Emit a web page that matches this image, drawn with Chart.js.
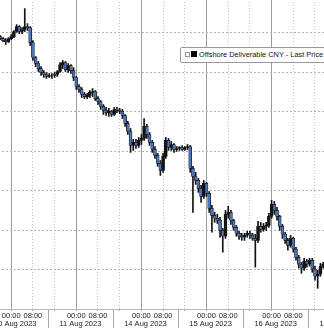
<!DOCTYPE html>
<html lang="en">
<head>
<meta charset="UTF-8">
<title>Offshore Deliverable CNY - Last Price</title>
<script src="https://cdn.jsdelivr.net/npm/chart.js@4.4.0/dist/chart.umd.min.js"></script>
<style>
    html, body { margin: 0; padding: 0; background: #fff; }
    .frame { position: relative; width: 324px; height: 328px; overflow: hidden; background: #fff; }
    #cnyChart { position: absolute; left: -30px; top: -46px; }
    .legend {
        position: absolute; left: 180px; top: 47px; width: 200px; height: 14px;
        border: 1px solid #9a9a9a; border-radius: 2px; background: #fff;
        font-family: 'Liberation Sans', Arial, sans-serif; font-size: 7.4px; color: #111;
        white-space: nowrap;
    }
    .legend .toggle { position: absolute; left: 4px; top: 4px; width: 3px; height: 3px; border: 1px solid #9a9a9a; }
    .legend .swatch { position: absolute; left: 10px; top: 3px; width: 6px; height: 6px; background: #000; }
    .legend .label { position: absolute; left: 18px; top: 2px; line-height: 9px; }
</style>
</head>
<body>
<div class="frame">
    <canvas id="cnyChart" width="400" height="379"></canvas>
    <div class="legend"><span class="toggle"></span><span class="swatch"></span><span class="label">Offshore Deliverable CNY - Last Price</span></div>
</div>

<script>
// hourly bars, trading hours counted from 10 Aug 00:00 (weekend skipped)
const barHours = [
    -4, -3, -2, -1,
    0, 1, 2, 3, 4, 5, 6, 7, 8, 9, 10, 11, 12, 13, 14, 15, 16, 17, 18, 19, 20, 21, 22, 23,
    24, 25, 26, 27, 28, 29, 30, 31, 32, 33, 34, 35, 36, 37, 38, 39, 40, 41, 42, 43, 44, 45, 46, 47,
    48, 49, 50, 51, 52, 53, 54, 55, 56, 57, 58, 59, 60, 61, 62, 63, 64, 65, 66, 67, 68, 69, 70, 71,
    72, 73, 74, 75, 76, 77, 78, 79, 80, 81, 82, 83, 84, 85, 86, 87, 88, 89, 90, 91, 92, 93, 94, 95,
    96, 97, 98, 99, 100, 101, 102, 103, 104, 105, 106, 107, 108, 109, 110, 111, 112, 113, 114, 115
];
const opens = [
    7.2219, 7.2229, 7.2239, 7.2244,
    7.2229, 7.2219, 7.2193, 7.2168, 7.2193, 7.2183, 7.2168, 7.2173, 7.2249, 7.2325, 7.2355, 7.2381, 7.2401, 7.2411, 7.2421, 7.2416, 7.2416, 7.2411, 7.2396, 7.2361, 7.2350, 7.2386, 7.2366, 7.2391,
    7.2426, 7.2472, 7.2487, 7.2512, 7.2523, 7.2517, 7.2502, 7.2497, 7.2533, 7.2548, 7.2573, 7.2593, 7.2604, 7.2598, 7.2614, 7.2588, 7.2593, 7.2598, 7.2619, 7.2659, 7.2700, 7.2771, 7.2755, 7.2771,
    7.2745, 7.2735, 7.2674, 7.2715, 7.2755, 7.2791, 7.2821, 7.2862, 7.2897, 7.2826, 7.2745, 7.2781, 7.2766, 7.2791, 7.2786, 7.2781, 7.2791, 7.2781, 7.2776, 7.2887, 7.2928, 7.2948, 7.2988, 7.3029,
    7.2963, 7.3014, 7.3090, 7.3125, 7.3140, 7.3150, 7.3201, 7.3231, 7.3120, 7.3110, 7.3150, 7.3186, 7.3216, 7.3231, 7.3236, 7.3226, 7.3216, 7.3226, 7.3242, 7.3252, 7.3181, 7.3196, 7.3181, 7.3176,
    7.3130, 7.3069, 7.3100, 7.3130, 7.3181, 7.3221, 7.3252, 7.3277, 7.3242, 7.3297, 7.3338, 7.3373, 7.3393, 7.3358, 7.3373, 7.3353, 7.3398, 7.3434, 7.3424, 7.3383
];
const highs = [
    7.2234, 7.2244, 7.2259, 7.2249,
    7.2234, 7.2224, 7.2198, 7.2204, 7.2204, 7.2193, 7.2188, 7.2264, 7.2340, 7.2371, 7.2396, 7.2416, 7.2426, 7.2431, 7.2426, 7.2431, 7.2426, 7.2421, 7.2401, 7.2381, 7.2396, 7.2401, 7.2406, 7.2442,
    7.2487, 7.2502, 7.2528, 7.2533, 7.2533, 7.2528, 7.2523, 7.2543, 7.2563, 7.2588, 7.2614, 7.2619, 7.2624, 7.2624, 7.2619, 7.2604, 7.2609, 7.2634, 7.2674, 7.2715, 7.2806, 7.2796, 7.2786, 7.2781,
    7.2766, 7.2745, 7.2735, 7.2771, 7.2806, 7.2836, 7.2877, 7.2923, 7.2907, 7.2836, 7.2796, 7.2796, 7.2806, 7.2801, 7.2796, 7.2796, 7.2796, 7.2791, 7.2907, 7.3110, 7.2968, 7.3009, 7.3059, 7.3039,
    7.3029, 7.3110, 7.3211, 7.3161, 7.3166, 7.3236, 7.3312, 7.3242, 7.3140, 7.3171, 7.3201, 7.3231, 7.3247, 7.3252, 7.3252, 7.3236, 7.3242, 7.3252, 7.3388, 7.3262, 7.3211, 7.3206, 7.3201, 7.3186,
    7.3140, 7.3120, 7.3150, 7.3201, 7.3242, 7.3267, 7.3302, 7.3287, 7.3312, 7.3353, 7.3393, 7.3419, 7.3404, 7.3388, 7.3383, 7.3414, 7.3454, 7.3495, 7.3434, 7.3393
];
const lows = [
    7.2214, 7.2224, 7.2229, 7.2224,
    7.2209, 7.2188, 7.2158, 7.2163, 7.2173, 7.2077, 7.2153, 7.2168, 7.2239, 7.2320, 7.2345, 7.2371, 7.2391, 7.2401, 7.2406, 7.2406, 7.2401, 7.2391, 7.2350, 7.2340, 7.2345, 7.2355, 7.2361, 7.2376,
    7.2421, 7.2462, 7.2477, 7.2502, 7.2507, 7.2492, 7.2482, 7.2492, 7.2523, 7.2543, 7.2563, 7.2578, 7.2583, 7.2593, 7.2578, 7.2578, 7.2583, 7.2588, 7.2614, 7.2649, 7.2685, 7.2740, 7.2740, 7.2730,
    7.2715, 7.2634, 7.2664, 7.2705, 7.2745, 7.2776, 7.2811, 7.2847, 7.2811, 7.2730, 7.2735, 7.2750, 7.2761, 7.2776, 7.2776, 7.2771, 7.2776, 7.2766, 7.2771, 7.2877, 7.2907, 7.2938, 7.2973, 7.2948,
    7.2958, 7.3004, 7.3074, 7.3110, 7.3120, 7.3135, 7.3191, 7.3100, 7.3079, 7.3100, 7.3145, 7.3176, 7.3206, 7.3216, 7.3216, 7.3206, 7.3206, 7.3216, 7.3221, 7.3155, 7.3161, 7.3166, 7.3161, 7.3115,
    7.3049, 7.3054, 7.3085, 7.3125, 7.3171, 7.3211, 7.3242, 7.3226, 7.3236, 7.3287, 7.3328, 7.3363, 7.3343, 7.3348, 7.3343, 7.3343, 7.3383, 7.3404, 7.3368, 7.3363
];
const closes = [
    7.2229, 7.2239, 7.2244, 7.2229,
    7.2219, 7.2193, 7.2168, 7.2193, 7.2183, 7.2168, 7.2173, 7.2249, 7.2325, 7.2355, 7.2381, 7.2401, 7.2411, 7.2421, 7.2416, 7.2416, 7.2411, 7.2396, 7.2361, 7.2350, 7.2386, 7.2366, 7.2391, 7.2426,
    7.2472, 7.2487, 7.2512, 7.2523, 7.2517, 7.2502, 7.2497, 7.2533, 7.2548, 7.2573, 7.2593, 7.2604, 7.2598, 7.2614, 7.2588, 7.2593, 7.2598, 7.2619, 7.2659, 7.2700, 7.2771, 7.2755, 7.2771, 7.2745,
    7.2735, 7.2674, 7.2715, 7.2755, 7.2791, 7.2821, 7.2862, 7.2897, 7.2826, 7.2745, 7.2781, 7.2766, 7.2791, 7.2786, 7.2781, 7.2791, 7.2781, 7.2776, 7.2887, 7.2928, 7.2948, 7.2988, 7.3029, 7.2963,
    7.3014, 7.3090, 7.3125, 7.3140, 7.3150, 7.3201, 7.3231, 7.3120, 7.3110, 7.3150, 7.3186, 7.3216, 7.3231, 7.3236, 7.3226, 7.3216, 7.3226, 7.3242, 7.3252, 7.3181, 7.3196, 7.3181, 7.3176, 7.3130,
    7.3069, 7.3100, 7.3130, 7.3181, 7.3221, 7.3252, 7.3277, 7.3242, 7.3297, 7.3338, 7.3373, 7.3393, 7.3358, 7.3373, 7.3353, 7.3398, 7.3434, 7.3424, 7.3383, 7.3373
];
const timeLabels = ['00:00', '08:00', ''];
const dayLabels = ['10 Aug 2023', '11 Aug 2023', '14 Aug 2023', '15 Aug 2023', '16 Aug 2023', '17 Aug 2023'];
const priceTicks = [7.18, 7.20, 7.22, 7.24, 7.26, 7.28, 7.30, 7.32, 7.34, 7.36];
const seriesName = 'Offshore Deliverable CNY - Last Price';

const X_MIN = -15.19, X_MAX = 132.28;
const FONT = { family: "'Liberation Sans', Arial, sans-serif", size: 7.5 };

// 8-hour ticks; the 00:00 ones get a solid line
const hourTicks = [];
for (let d = -1; d <= dayLabels.length - 1; d++) {
    timeLabels.forEach((lab, k) => hourTicks.push(d * 24 + k * 8));
}
const isMidnight = v => ((v % 24) + 24) % 24 === 0;

const daySeparators = {
    id: 'daySeparators',
    afterDraw(chart) {
        const xs = chart.scales.x, ctx = chart.ctx;
        ctx.save();
        ctx.strokeStyle = '#a8a8a8';
        ctx.lineWidth = 1;
        dayLabels.forEach((lab, d) => {
            const px = Math.round(xs.getPixelForValue(d * 24 + 13.5)) + 0.5;
            ctx.beginPath();
            ctx.moveTo(px, chart.chartArea.bottom + 1);
            ctx.lineTo(px, chart.height);
            ctx.stroke();
        });
        ctx.restore();
    }
};

const ctx = document.getElementById('cnyChart').getContext('2d');
new Chart(ctx, {
    type: 'bar',
    data: {
        datasets: [
            {
                label: seriesName,
                data: barHours.map((h, i) => ({ x: h, y: [opens[i], closes[i]] })),
                backgroundColor: c => {
                    const i = c.dataIndex;
                    return closes[i] > opens[i] ? '#4a77bd' : '#141414';
                },
                borderColor: '#141414',
                borderWidth: 0.7,
                borderSkipped: false,
                barThickness: 3,
                grouped: false,
                order: 1
            },
            {
                label: 'range',
                data: barHours.map((h, i) => ({ x: h, y: [lows[i], highs[i]] })),
                backgroundColor: '#141414',
                barThickness: 1,
                grouped: false,
                order: 2
            }
        ]
    },
    options: {
        responsive: false,
        animation: false,
        layout: { padding: 0 },
        plugins: { legend: { display: false }, tooltip: { enabled: false } },
        scales: {
            x: {
                type: 'linear', position: 'bottom', weight: 0,
                min: X_MIN, max: X_MAX, offset: false,
                afterBuildTicks: s => { s.ticks = hourTicks.filter(v => v >= s.min && v <= s.max).map(v => ({ value: v })); },
                afterFit: s => { s.height = 9; },
                ticks: {
                    autoSkip: false, maxRotation: 0, minRotation: 0, padding: 0,
                    font: FONT, color: '#1a1a1a',
                    callback: v => timeLabels[(((v % 24) + 24) % 24) / 8]
                },
                grid: {
                    offset: false,
                    color: c => (c.tick && isMidnight(c.tick.value)) ? '#9a9a9a' : '#c4c4c4',
                    lineWidth: 1,
                    drawTicks: true, tickLength: 2, tickColor: '#a0a0a0'
                },
                border: {
                    display: true, color: '#b8b8b8',
                    dash: c => (c.tick && isMidnight(c.tick.value)) ? [] : [1, 2]
                }
            },
            xd: {
                type: 'linear', position: 'bottom', weight: 1,
                min: X_MIN, max: X_MAX, offset: false,
                afterBuildTicks: s => { s.ticks = dayLabels.map((lab, d) => ({ value: d * 24 + 1.5 })); },
                afterFit: s => { s.height = 15; },
                ticks: {
                    autoSkip: false, maxRotation: 0, minRotation: 0, padding: 1.5,
                    font: FONT, color: '#1a1a1a',
                    callback: (v, i) => dayLabels[i]
                },
                grid: { drawOnChartArea: false, drawTicks: false, offset: false },
                border: { display: false }
            },
            y: {
                type: 'linear', position: 'right', reverse: true,
                min: 7.18, max: 7.36,
                afterBuildTicks: s => { s.ticks = priceTicks.map(v => ({ value: v })); },
                afterFit: s => { s.width = 0; },
                ticks: { display: false },
                grid: { color: '#b4b4b4', drawTicks: false },
                border: { display: false, dash: [2, 2] }
            }
        }
    },
    plugins: [daySeparators]
});
</script>
</body>
</html>
